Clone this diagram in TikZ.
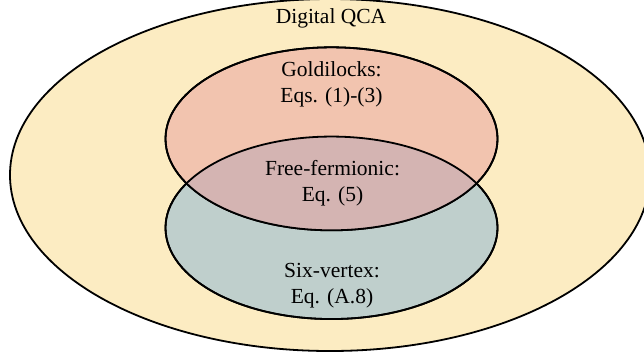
\documentclass[tikz,border=0pt]{standalone}
\usepackage{fontspec}
\setmainfont{Liberation Serif}
\usetikzlibrary{shapes.geometric}
\definecolor{qcayellow}{RGB}{252,236,194}
\definecolor{goldsalmon}{RGB}{242,196,175}
\definecolor{sixteal}{RGB}{191,207,204}
\definecolor{overlapc}{RGB}{212,180,178}
\tikzset{
  venn/.style={ellipse, draw=black, line width=1.8pt, inner sep=0pt},
  lbl/.style={align=center, font=\fontsize{21.5}{26}\selectfont, inner sep=0pt, text=black}
}
\begin{document}
\begin{tikzpicture}[x=1pt,y=-1pt]
\useasboundingbox (0,0) rectangle (644,360);
\fill[white] (0,0) rectangle (644,360);
\node[venn, fill=qcayellow, minimum width=640pt, minimum height=352pt] (qca) at (330,175) {};
\node[venn, fill=sixteal, minimum width=332pt, minimum height=182.5pt] (six) at (331.5,227.8) {};
\node[venn, fill=goldsalmon, minimum width=332pt, minimum height=183pt] (gold) at (331.5,138.8) {};
\begin{scope}
  \clip (331.5,138.8) ellipse (166pt and 91.5pt);
  \fill[overlapc] (331.5,227.8) ellipse (166pt and 91.25pt);
\end{scope}
\draw[line width=1.8pt] (331.5,138.8) ellipse (166pt and 91.5pt);
\draw[line width=1.8pt] (331.5,227.8) ellipse (166pt and 91.25pt);
\node[lbl, anchor=base] (tqca) at (331,23) {Digital QCA};
\node[lbl] (tgold) at (331.5,84.5) {Goldilocks:\\Eqs. (1)-(3)};
\node[lbl] (tfree) at (332.5,183) {Free-fermionic:\\Eq. (5)};
\node[lbl] (tsix) at (332,286) {Six-vertex:\\Eq. (A.8)};
\end{tikzpicture}
\end{document}
